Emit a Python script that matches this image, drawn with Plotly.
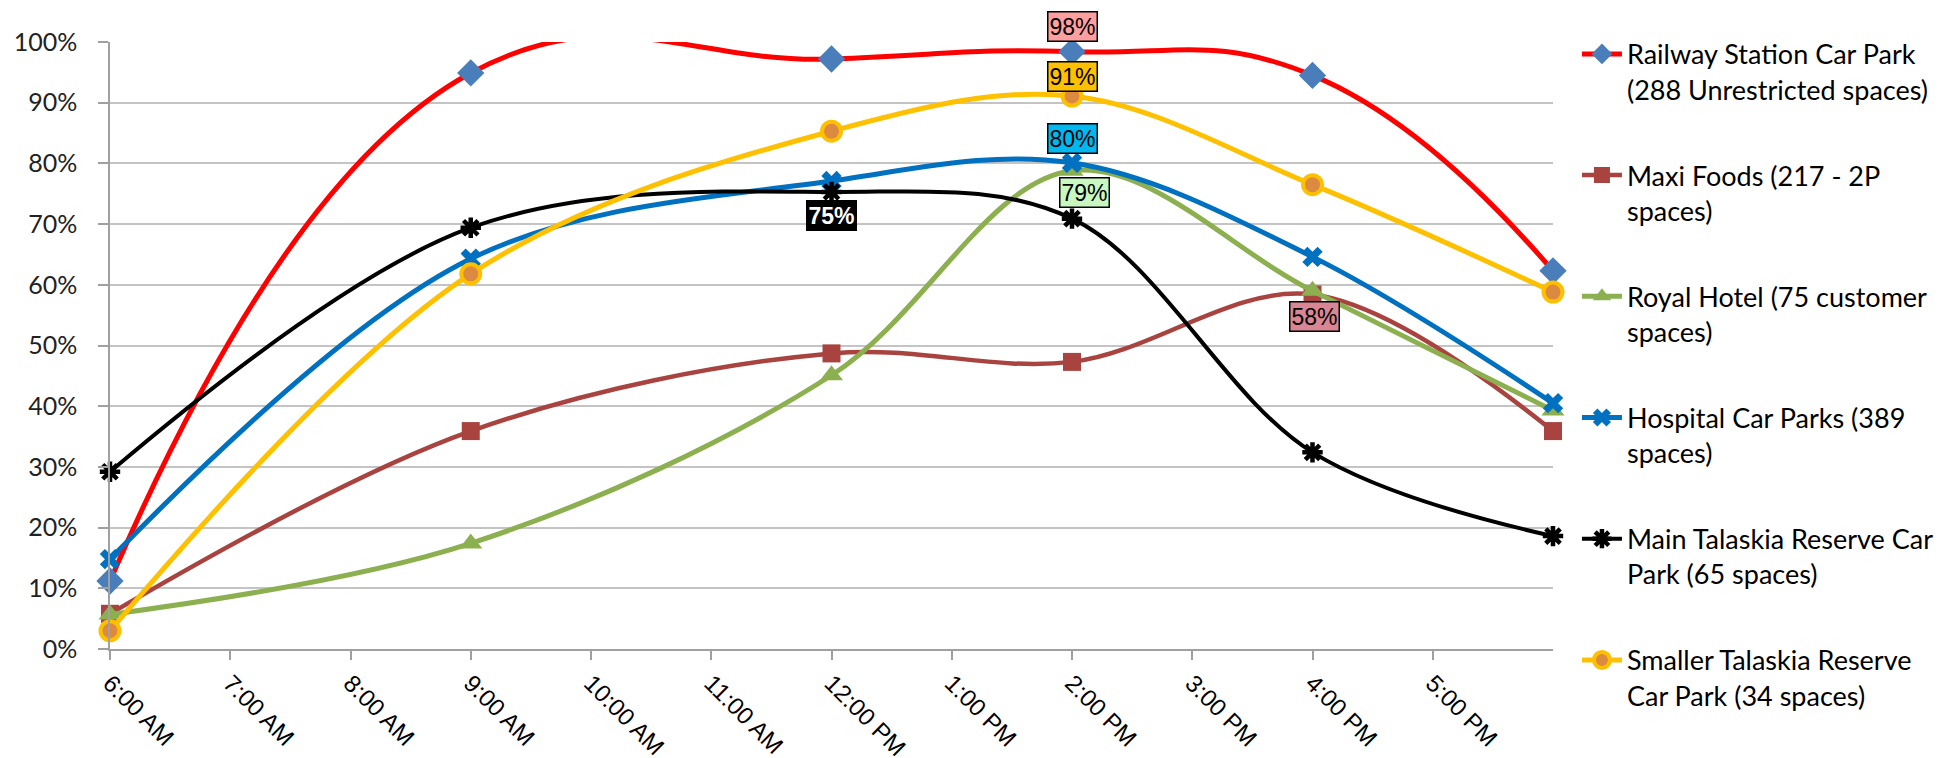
import plotly.graph_objects as go

# ---- data ----
hours = [6, 9, 12, 14, 16, 18]
tick_hours = [6, 7, 8, 9, 10, 11, 12, 13, 14, 15, 16, 17]
tick_labels = ["6:00 AM", "7:00 AM", "8:00 AM", "9:00 AM", "10:00 AM", "11:00 AM",
               "12:00 PM", "1:00 PM", "2:00 PM", "3:00 PM", "4:00 PM", "5:00 PM"]

railway = [0.112, 0.949, 0.972, 0.984, 0.945, 0.623]
maxi = [0.058, 0.359, 0.487, 0.473, 0.584, 0.359]
royal = [0.057, 0.174, 0.451, 0.788, 0.590, 0.393]
hospital = [0.148, 0.643, 0.771, 0.801, 0.646, 0.405]
main_tal = [0.292, 0.694, 0.753, 0.709, 0.324, 0.186]
smaller_tal = [0.030, 0.618, 0.853, 0.911, 0.765, 0.588]

names = [
    "Railway Station Car Park<br>(288 Unrestricted spaces)",
    "Maxi Foods (217 - 2P<br>spaces)",
    "Royal Hotel (75 customer<br>spaces)",
    "Hospital Car Parks (389<br>spaces)",
    "Main Talaskia Reserve Car<br>Park (65 spaces)",
    "Smaller Talaskia Reserve<br>Car Park (34 spaces)",
]
series = [railway, maxi, royal, hospital, main_tal, smaller_tal]

# ---- styles ----
line_colors = ["#FF0000", "#A8433F", "#8CB050", "#0070C0", "#000000", "#FFC000"]
marker_styles = [
    dict(symbol="diamond", size=21, color="#4A7EBB"),
    dict(symbol="square", size=18, color="#A8433F"),
    dict(symbol="triangle-up", size=20, color="#8CB050"),
    dict(symbol="x", size=18, color="#0070C0"),
    dict(symbol="asterisk-open", size=17, color="#000000", line=dict(color="#000000", width=4.5)),
    dict(symbol="circle", size=19, color="#DC8A42", line=dict(color="#FFC000", width=4)),
]
line_widths = [5, 4.5, 5, 5, 4, 5]
smooth = [1.3, 1.0, 1.0, 1.0, 1.0, 1.0]

# data labels: (series index, point index, bg, font colour, bold, xshift, yshift)
labels = [
    (0, 3, "#FF9F9F", "#000000", False, 0, 25),
    (5, 3, "#FFC000", "#000000", False, 0, 20),
    (3, 3, "#00B8F0", "#000000", False, 0, 24),
    (2, 3, "#C8F7C0", "#000000", False, 12, -22),
    (4, 2, "#000000", "#FFFFFF", True, 0, -24),
    (1, 4, "#D98594", "#000000", False, 2, -22),
]

fig = go.Figure()
for i, (nm, vals) in enumerate(zip(names, series)):
    fig.add_trace(go.Scatter(
        x=hours, y=vals, name=nm, mode="lines+markers",
        line=dict(color=line_colors[i], width=line_widths[i], shape="spline", smoothing=smooth[i]),
        marker=marker_styles[i], cliponaxis=False, legendgroup=f"g{i}",
    ))

for si, pi, bg, fc, bold, xs, ys in labels:
    v = series[si][pi]
    txt = f"{round(v * 100)}%"
    if bold:
        txt = f"<b>{txt}</b>"
    fig.add_annotation(
        x=hours[pi], y=v, text=txt, showarrow=False, xshift=xs, yshift=ys,
        bgcolor=bg, bordercolor="#000000", borderwidth=1.5, borderpad=1,
        font=dict(family="Liberation Sans, Arial", size=23, color=fc),
    )

fig.update_layout(
    width=1943, height=758,
    margin=dict(l=102, r=395, t=34, b=117),
    paper_bgcolor="white", plot_bgcolor="white",
    showlegend=True,
    legend=dict(
        x=1.0166, y=1.02, xanchor="left", yanchor="top",
        font=dict(family="Lato", size=27, color="#000000"),
        tracegroupgap=48, valign="top", itemwidth=40,
        bgcolor="rgba(0,0,0,0)", maxheight=750,
    ),
)
fig.update_xaxes(
    range=[6, 18], tickmode="array", tickvals=tick_hours, ticktext=tick_labels,
    tickangle=45, ticks="outside", ticklen=9, tickcolor="#A0A0A0", tickwidth=1.5,
    showline=True, linecolor="#A0A0A0", linewidth=1.5, showgrid=False, zeroline=False,
    tickfont=dict(family="Liberation Sans, Arial", size=24, color="#000000"),
    automargin=False,
)
fig.update_yaxes(
    range=[0, 1], dtick=0.1, tickformat=".0%", ticks="outside", ticklen=10,
    tickcolor="#A0A0A0", tickwidth=1.5, ticklabelstandoff=16,
    showline=True, linecolor="#A0A0A0", linewidth=1.5,
    showgrid=True, gridcolor="#C4C4C4", gridwidth=2, zeroline=False,
    tickfont=dict(family="Lato", size=25, color="#222222"),
    automargin=False,
)

fig.write_html("out.html")
